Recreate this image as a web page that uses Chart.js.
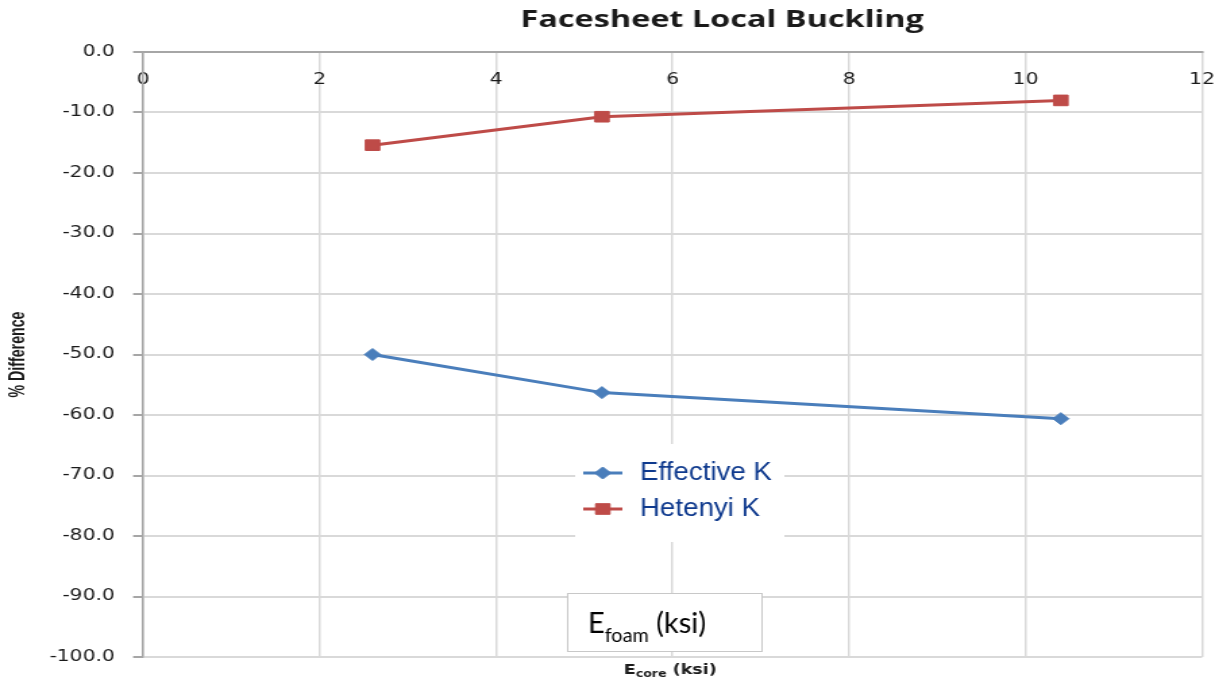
<!DOCTYPE html>
<html>
<head>
<meta charset="utf-8">
<script src="https://cdn.jsdelivr.net/npm/chart.js@4/dist/chart.umd.min.js"></script>
<style>
  html, body { margin: 0; padding: 0; background: #fff; overflow: hidden; }
  /* the reference picture is stretched sideways, so the chart is too */
  #wrap { width: 906px; height: 680px; transform: scaleX(1.35); transform-origin: 0 0; }
</style>
</head>
<body>
<div id="wrap"><canvas id="chart" width="906" height="680"></canvas></div>
<script>
// chart values
let chartTitle = 'Facesheet Local Buckling';
let yTitle = '% Difference';
let seriesNames = ['Effective K', 'Hetenyi K'];
let eCore = [2.6, 5.2, 10.4];
let effectiveK = [-50.0, -56.3, -60.6];
let hetenyiK = [-15.4, -10.7, -8.0];
let xTicks = [0, 2, 4, 6, 8, 10, 12];
let yTicks = [0, -10, -20, -30, -40, -50, -60, -70, -80, -90, -100];

let blue = '#4a7ebb';
let red = '#be4b48';
let gridColor = '#d9d9d9';
let axisColor = '#a6a6a6';
let textColor = '#1a1a1a';

function points(ys) {
    return eCore.map((x, i) => ({ x: x, y: ys[i] }));
}

// legend, titles and the two subscript labels
let annotations = {
    id: 'annotations',
    afterDraw(chart) {
        let ctx = chart.ctx;
        let area = chart.chartArea;
        ctx.save();

        ctx.fillStyle = textColor;
        ctx.font = 'bold 24px "Open Sans"';
        ctx.textAlign = 'center';
        ctx.textBaseline = 'alphabetic';
        ctx.fillText(chartTitle, 535, 27);

        // y axis title, narrow bold
        ctx.save();
        ctx.translate(13.5, (area.top + area.bottom) / 2);
        ctx.rotate(-Math.PI / 2);
        ctx.scale(0.835, 1);
        ctx.font = 'bold 17px "Liberation Sans"';
        ctx.textAlign = 'center';
        ctx.textBaseline = 'middle';
        ctx.fillText(yTitle, 0, 0);
        ctx.restore();

        // legend
        ctx.fillStyle = '#fff';
        ctx.fillRect(426, 444, 155, 98);
        chart.data.datasets.forEach((ds, i) => {
            let y = 473 + i * 36;
            ctx.strokeStyle = ds.borderColor;
            ctx.lineWidth = 3;
            ctx.beginPath();
            ctx.moveTo(432, y);
            ctx.lineTo(461, y);
            ctx.stroke();
            ctx.fillStyle = ds.backgroundColor;
            ctx.lineWidth = 1;
            Chart.helpers.drawPoint(ctx, { pointStyle: ds.pointStyle, radius: ds.pointRadius, borderWidth: 1, rotation: 0 }, 446.5, y);
            ctx.save();
            ctx.translate(474, y);
            ctx.scale(0.79, 1);
            ctx.fillStyle = '#0f3a8e';
            ctx.font = '26px "Liberation Sans"';
            ctx.textAlign = 'left';
            ctx.textBaseline = 'middle';
            ctx.fillText(ds.label, 0, 0);
            ctx.restore();
        });

        // E_foam text box
        ctx.fillStyle = '#fff';
        ctx.fillRect(420, 593, 144, 58);
        ctx.strokeStyle = '#c8c8c8';
        ctx.lineWidth = 1;
        ctx.strokeRect(420.5, 593.5, 144, 58);
        ctx.save();
        ctx.translate(435.5, 633);
        ctx.scale(0.77, 1);
        ctx.fillStyle = '#000';
        ctx.textAlign = 'left';
        ctx.font = '28px Lato';
        ctx.fillText('E', 0, 0);
        let w = ctx.measureText('E').width;
        ctx.font = '19px Lato';
        ctx.fillText('foam', w, 9);
        w += ctx.measureText('foam').width;
        ctx.font = '28px Lato';
        ctx.fillText(' (ksi)', w, 0);
        ctx.restore();

        // x axis title under the plot
        ctx.save();
        ctx.translate(462, 674);
        ctx.scale(0.93, 1);
        ctx.fillStyle = textColor;
        ctx.textAlign = 'left';
        ctx.font = 'bold 14px "DejaVu Sans"';
        ctx.fillText('E', 0, 0);
        let x = ctx.measureText('E').width;
        ctx.font = 'bold 10px "DejaVu Sans"';
        ctx.fillText('core', x, 3);
        x += ctx.measureText('core').width;
        ctx.font = 'bold 14px "DejaVu Sans"';
        ctx.fillText(' (ksi)', x, 0);
        ctx.restore();

        ctx.restore();
    }
};

let tickFont = { family: '"DejaVu Sans"', size: 15 };

new Chart(document.getElementById('chart'), {
    type: 'line',
    data: {
        datasets: [{
            label: seriesNames[0],
            data: points(effectiveK),
            borderColor: blue,
            backgroundColor: blue,
            borderWidth: 3,
            pointStyle: 'rectRot',
            pointRadius: 6,
            pointBorderWidth: 1,
            tension: 0
        }, {
            label: seriesNames[1],
            data: points(hetenyiK),
            borderColor: red,
            backgroundColor: red,
            borderWidth: 3,
            pointStyle: 'rect',
            pointRadius: 7.5,
            pointBorderWidth: 1,
            tension: 0
        }]
    },
    options: {
        responsive: false,
        animation: false,
        layout: { padding: { top: 52, right: 15.6, bottom: 23, left: 4 } },
        plugins: {
            legend: { display: false },
            title: { display: false },
            tooltip: { enabled: false }
        },
        scales: {
            x: {
                type: 'linear',
                position: { y: 0 },
                min: xTicks[0],
                max: xTicks[xTicks.length - 1],
                afterBuildTicks: s => { s.ticks = xTicks.map(v => ({ value: v })); },
                afterFit: s => { s.paddingLeft = 0; s.paddingRight = 0; },
                ticks: { font: tickFont, color: textColor, padding: 19 },
                grid: { color: gridColor, lineWidth: 1.5, drawTicks: false },
                border: { color: axisColor, width: 2 }
            },
            y: {
                type: 'linear',
                min: yTicks[yTicks.length - 1],
                max: yTicks[0],
                afterBuildTicks: s => { s.ticks = yTicks.map(v => ({ value: v })); },
                ticks: { font: tickFont, color: textColor, padding: 13.6, callback: v => v.toFixed(1) },
                grid: { color: gridColor, lineWidth: 2, tickLength: 7.4, tickColor: axisColor },
                border: { color: axisColor, width: 1.5 },
                afterFit: s => { s.width = 102; }
            }
        }
    },
    plugins: [annotations]
});
</script>
</body>
</html>
